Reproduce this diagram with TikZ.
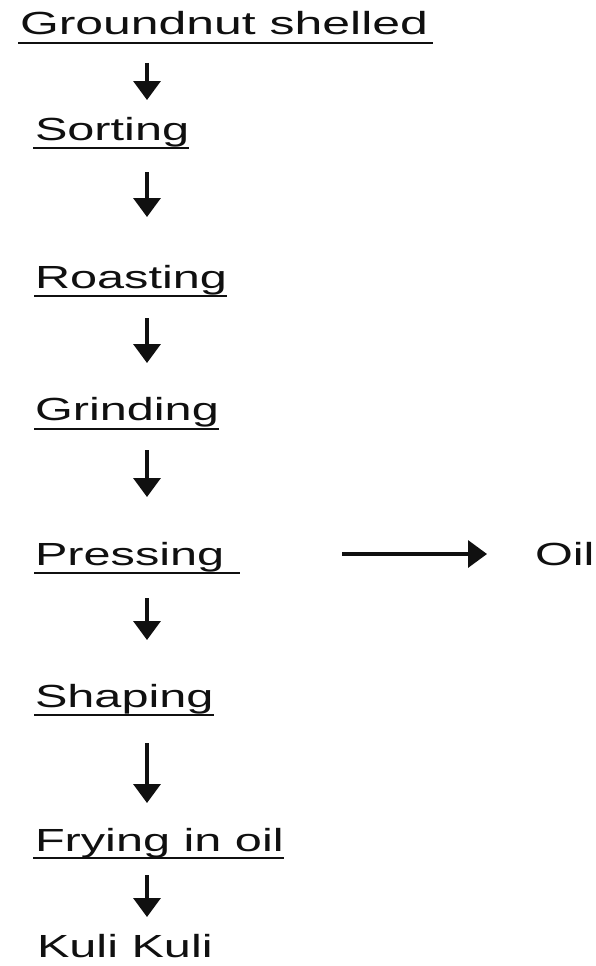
\documentclass[tikz,border=0pt]{standalone}
\usepackage{fontspec}
\setmainfont{Liberation Sans}
\usetikzlibrary{arrows.meta,calc}
\definecolor{ink}{HTML}{101010}
\newcommand{\stxt}[2][1.52]{\scalebox{#1}[1]{#2}}
\begin{document}
\begin{tikzpicture}[x=1pt,y=-1pt,
  lbl/.style={anchor=base west,inner sep=0pt,outer sep=0pt,text=ink,font=\fontsize{32}{38}\selectfont},
  uline/.style={draw=ink,line width=2.8pt},
  arr/.style={draw=ink,line width=3.4pt,-{Triangle[width=27pt,length=19pt]}}]
\useasboundingbox[fill=white] (0,0) rectangle (595,966);
\coordinate (col) at (147,0);
\node[lbl] (gs) at (20,35) {\stxt[1.56]{Groundnut shelled}};
\node[lbl] (sort) at (35,140) {\stxt{Sorting}};
\node[lbl] (roast) at (35,288) {\stxt{Roasting}};
\node[lbl] (grind) at (35,420) {\stxt{Grinding}};
\node[lbl] (press) at (35,565) {\stxt{Pressing}};
\node[lbl] (oil) at (535,565) {\stxt{Oil}};
\node[lbl] (shape) at (35,707) {\stxt{Shaping}};
\node[lbl] (fry) at (35,851) {\stxt{Frying in oil}};
\node[lbl] (kuli) at (37,957) {\stxt{Kuli Kuli}};
% underlines
\draw[uline] ($(gs.base west)+(-2,8)$) -- ($(gs.base east)+(5,8)$);
\draw[uline] ($(sort.base west)+(-2,8)$) -- ($(sort.base east)+(0,8)$);
\draw[uline] ($(roast.base west)+(-1,8)$) -- ($(roast.base east)+(0,8)$);
\draw[uline] ($(grind.base west)+(-1,9)$) -- ($(grind.base east)+(0,9)$);
\draw[uline] ($(press.base west)+(-1,8)$) -- ($(press.base east)+(16,8)$);
\draw[uline] ($(shape.base west)+(-1,8)$) -- ($(shape.base east)+(0,8)$);
\draw[uline] ($(fry.base west)+(-2,7)$) -- ($(fry.base east)+(0,7)$);
% arrows
\draw[arr] ($(gs.base -| col)+(0,28)$) -- ($(sort.base -| col)+(0,-40)$);
\draw[arr] ($(sort.base -| col)+(0,32)$) -- ($(roast.base -| col)+(0,-71)$);
\draw[arr] ($(roast.base -| col)+(0,30)$) -- ($(grind.base -| col)+(0,-57)$);
\draw[arr] ($(grind.base -| col)+(0,30)$) -- ($(press.base -| col)+(0,-68)$);
\draw[arr] ($(press.base -| col)+(0,33)$) -- ($(shape.base -| col)+(0,-67)$);
\draw[arr] ($(shape.base -| col)+(0,36)$) -- ($(fry.base -| col)+(0,-48)$);
\draw[arr] ($(fry.base -| col)+(0,24)$) -- ($(kuli.base -| col)+(0,-40)$);
\draw[arr] ($(press.base east)+(118,-11)$) -- ($(oil.base west)+(-48,-11)$);
\end{tikzpicture}
\end{document}
